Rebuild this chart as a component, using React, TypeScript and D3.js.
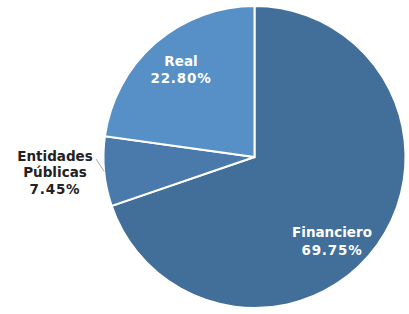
import React from "react";
import * as d3 from "d3";

const categories = ["Financiero", "Entidades Públicas", "Real"];
const values = [69.75, 7.45, 22.8];
const colors = ["#416f99", "#4a7aab", "#5690c6"];

export default function App() {
  const W = 409, H = 314;
  const cx = 254.5, cy = 157, r = 151;
  const pie = d3.pie<number>().sort(null).value((d) => d)(values);
  const arc = d3.arc<d3.PieArcDatum<number>>().innerRadius(0).outerRadius(r);
  const fmt = (v: number) => v.toFixed(2) + "%";
  const font = "'DejaVu Sans', Verdana, sans-serif";
  const ea = (pie[1].startAngle + pie[1].endAngle) / 2;
  const p1 = [cx + Math.sin(ea) * r, cy - Math.cos(ea) * r];
  const p2 = [96, 159];
  const fs = 13.5;
  const ls = 0.8;
  return (
    <svg width={W} height={H} style={{ position: "absolute", left: 0, top: 0 }}>
      <g transform={`translate(${cx},${cy})`}>
        {pie.map((d, i) => (
          <path key={i} d={arc(d) || ""} fill={colors[i]} stroke="#fff" strokeWidth={2} />
        ))}
      </g>
      <line x1={p1[0]} y1={p1[1]} x2={p2[0]} y2={p2[1]} stroke="#aaa" strokeWidth={1} />
      <g fontFamily={font} fontWeight="bold" fontSize={fs} textAnchor="middle">
        <text x={332} y={237} fill="#fff">{categories[0]}</text>
        <text x={332} y={255} fill="#fff" letterSpacing={ls}>{fmt(values[0])}</text>
        <text x={181} y={66} fill="#fff">{categories[2]}</text>
        <text x={181} y={83} fill="#fff" letterSpacing={ls}>{fmt(values[2])}</text>
        <text x={55} y={161} fill="#222">Entidades</text>
        <text x={55} y={177} fill="#222">Públicas</text>
        <text x={55} y={194} fill="#222" letterSpacing={ls}>{fmt(values[1])}</text>
      </g>
    </svg>
  );
}
